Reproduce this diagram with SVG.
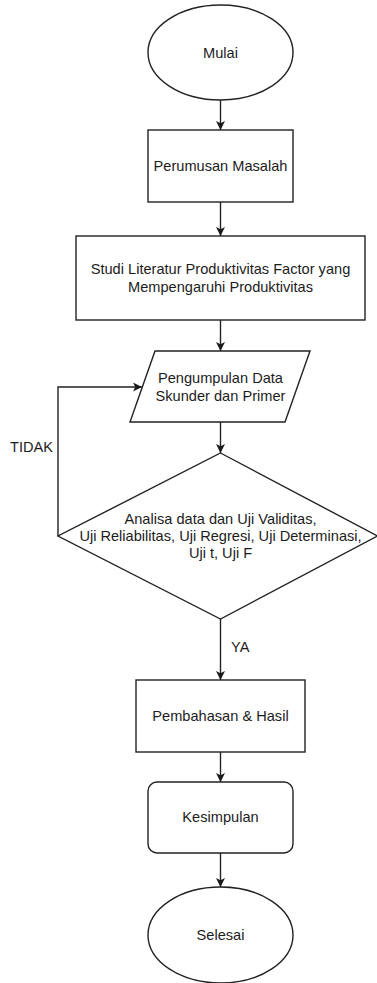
<svg xmlns="http://www.w3.org/2000/svg" width="377" height="983" viewBox="0 0 377 983">
<defs>
<marker id="arr" viewBox="0 0 10 10" refX="10" refY="5" markerWidth="9" markerHeight="9" markerUnits="userSpaceOnUse" orient="auto">
<path d="M0,0 L10,5 L0,10 L2.5,5 Z" fill="#1a1a1a"/>
</marker>
<style>
.s{fill:#fff;stroke:#222;stroke-width:1.4}
.c{fill:none;stroke:#222;stroke-width:1.4;marker-end:url(#arr)}
text{font-family:"Liberation Sans",Arial,sans-serif;font-size:14.6px;fill:#1c1c1c;text-anchor:middle;dominant-baseline:central}
.l{text-anchor:start}
</style>
</defs>
<rect width="377" height="983" fill="#fff"/>
<g id="connectors">
<path class="c" d="M220.5,100 V130"/>
<path class="c" d="M220.5,202 V236"/>
<path class="c" d="M220.5,320 V351"/>
<path class="c" d="M220.5,422 V453"/>
<path class="c" d="M58,536 V387 H142"/>
<path class="c" d="M220.5,619 V680"/>
<path class="c" d="M220.5,752 V782"/>
<path class="c" d="M220.5,853 V887"/>
<text class="l" x="10" y="447">TIDAK</text>
<text class="l" x="231" y="647">YA</text>
</g>
<g id="mulai">
<ellipse class="s" cx="220.5" cy="52.5" rx="72.5" ry="47.5"/>
<text x="220.5" y="52.5">Mulai</text>
</g>
<g id="perumusan">
<rect class="s" x="148" y="130" width="145" height="72"/>
<text x="220.5" y="166">Perumusan Masalah</text>
</g>
<g id="studi">
<rect class="s" x="76" y="236" width="289" height="84"/>
<text x="220.5" y="269">Studi Literatur Produktivitas Factor yang</text>
<text x="220.5" y="287">Mempengaruhi Produktivitas</text>
</g>
<g id="pengumpulan">
<polygon class="s" points="155,351 310,351 285,422 130,422"/>
<text x="220.5" y="378">Pengumpulan Data</text>
<text x="220.5" y="396">Skunder dan Primer</text>
</g>
<g id="analisa">
<polygon class="s" points="220.5,453 377.5,536 220.5,619 58,536"/>
<text x="220.5" y="519">Analisa data dan Uji Validitas,</text>
<text x="220.5" y="536">Uji Reliabilitas, Uji Regresi, Uji Determinasi,</text>
<text x="220.5" y="553">Uji t, Uji F</text>
</g>
<g id="pembahasan">
<rect class="s" x="136" y="680" width="169" height="72"/>
<text x="220.5" y="716">Pembahasan &amp; Hasil</text>
</g>
<g id="kesimpulan">
<rect class="s" x="148" y="782" width="145" height="71" rx="9"/>
<text x="220.5" y="817">Kesimpulan</text>
</g>
<g id="selesai">
<ellipse class="s" cx="220.5" cy="935" rx="72.5" ry="48"/>
<text x="220.5" y="935">Selesai</text>
</g>
</svg>
